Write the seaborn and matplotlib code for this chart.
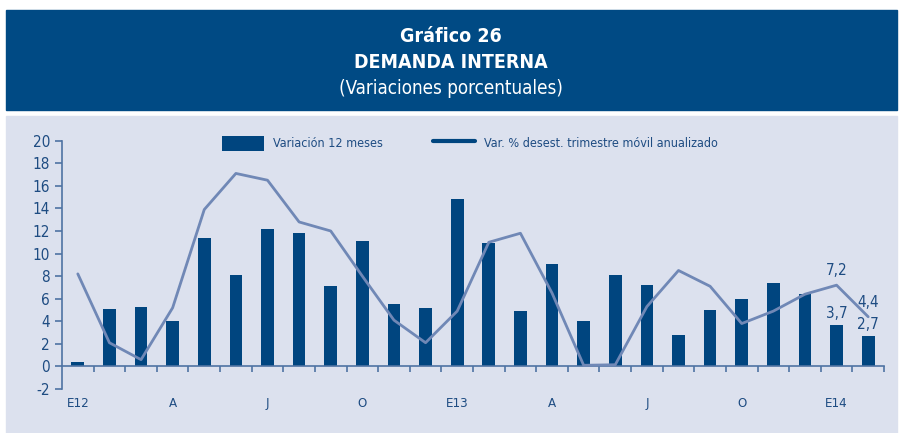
import numpy as np
import pandas as pd
import matplotlib
matplotlib.use('Agg')
import matplotlib.pyplot as plt
import seaborn as sns
from matplotlib.patches import Rectangle, Patch
from matplotlib.lines import Line2D

# Datos (enero 2012 - febrero 2014)
meses = ['E12', '', '', 'A', '', '', 'J', '', '', 'O', '', '',
         'E13', '', '', 'A', '', '', 'J', '', '', 'O', '', '',
         'E14', '']
var_12m = [0.4, 5.1, 5.3, 4.0, 11.4, 8.1, 12.2, 11.8, 7.1, 11.1, 5.5, 5.2,
           14.8, 10.9, 4.9, 9.1, 4.0, 8.1, 7.2, 2.8, 5.0, 6.0, 7.4, 6.4,
           3.7, 2.7]
var_trim = [8.2, 2.1, 0.6, 5.2, 13.9, 17.1, 16.5, 12.8, 12.0, 8.0, 4.1, 2.1,
            4.9, 11.0, 11.8, 6.5, 0.1, 0.15, 5.3, 8.5, 7.1, 3.8, 4.9, 6.4,
            7.2, 4.4]

df = pd.DataFrame({'pos': np.arange(len(var_12m)), 'v12': var_12m, 'vt': var_trim})

azul = '#00457F'
azul_linea = '#7088B6'
azul_eje = '#4F73A3'
azul_texto = '#1E4C82'
fondo = '#DCE1EE'

sns.set_style('white')
plt.rcParams['font.family'] = ['DejaVu Sans']
plt.rcParams['font.stretch'] = 'condensed'
plt.rcParams['axes.unicode_minus'] = False

fig = plt.figure(figsize=(9.01, 4.33), dpi=100)

# Cabecera y panel de fondo
fig.patches.append(Rectangle((6/901, 1 - 110/433), 891/901, 100/433,
                             transform=fig.transFigure, color='#004A84', zorder=-2))
fig.patches.append(Rectangle((6/901, 0), 891/901, 1 - 116/433,
                             transform=fig.transFigure, color=fondo, zorder=-2))
fig.text(0.5, 1 - 37/433, 'Gráfico 26', ha='center', va='center', color='white',
         fontsize=14, fontweight='bold')
fig.text(0.5, 1 - 63/433, 'DEMANDA INTERNA', ha='center', va='center', color='white',
         fontsize=14, fontweight='bold')
fig.text(0.5, 1 - 89/433, '(Variaciones porcentuales)', ha='center', va='center',
         color='white', fontsize=13.5)

ax = fig.add_axes([62/901, 44/433, 822/901, 248.3/433])
ax.set_facecolor('none')

sns.barplot(data=df, x='pos', y='v12', native_scale=True, width=0.4,
            color=azul, saturation=1, linewidth=0, ax=ax, zorder=2)
sns.lineplot(data=df, x='pos', y='vt', color=azul_linea, linewidth=2.0, ax=ax, zorder=3)

ax.set_xlim(-0.5, len(var_12m) - 0.5)
ax.set_ylim(-2, 20)
ax.set_yticks(np.arange(-2, 21, 2))
ax.set_xticks(np.arange(len(meses)))
ax.set_xticklabels(meses)
ax.set_xticks(np.arange(len(meses)) + 0.5, minor=True)
ax.set_xlabel('')
ax.set_ylabel('')

for s in ['top', 'right']:
    ax.spines[s].set_visible(False)
ax.spines['bottom'].set_position(('data', 0))
ax.spines['left'].set_color(azul_eje)
ax.spines['bottom'].set_color(azul_eje)
ax.spines['left'].set_linewidth(1.2)
ax.spines['bottom'].set_linewidth(1.2)

ax.tick_params(axis='y', left=True, direction='out', length=5, width=1.2, color=azul_eje,
               labelcolor=azul_texto, labelsize=11)
ax.tick_params(axis='x', which='major', bottom=True, length=0, pad=22,
               labelcolor=azul_texto, labelsize=9.5)
ax.tick_params(axis='x', which='minor', bottom=True, direction='out', length=4,
               width=1.2, color=azul_eje)

# Etiquetas de los últimos datos
n = len(var_12m)
for i in [n - 2, n - 1]:
    ax.annotate(f'{var_trim[i]:.1f}'.replace('.', ','), (i, var_trim[i]),
                xytext=(0, 5), textcoords='offset points', ha='center', va='bottom',
                color=azul_texto, fontsize=11)
    ax.annotate(f'{var_12m[i]:.1f}'.replace('.', ','), (i, var_12m[i]),
                xytext=(0, 3), textcoords='offset points', ha='center', va='bottom',
                color=azul_texto, fontsize=11)

handles = [Patch(facecolor=azul, edgecolor='none'),
           Line2D([], [], color=azul, linewidth=3)]
ax.legend(handles, ['Variación 12 meses', 'Var. % desest. trimestre móvil anualizado'],
          ncol=2, loc='center', bbox_to_anchor=(0.496, 0.99), frameon=False,
          fontsize=9, handlelength=3.4, handleheight=1.5, handletextpad=0.7,
          columnspacing=4.0, labelcolor=azul_texto)

fig.savefig('out.png', dpi=100)
